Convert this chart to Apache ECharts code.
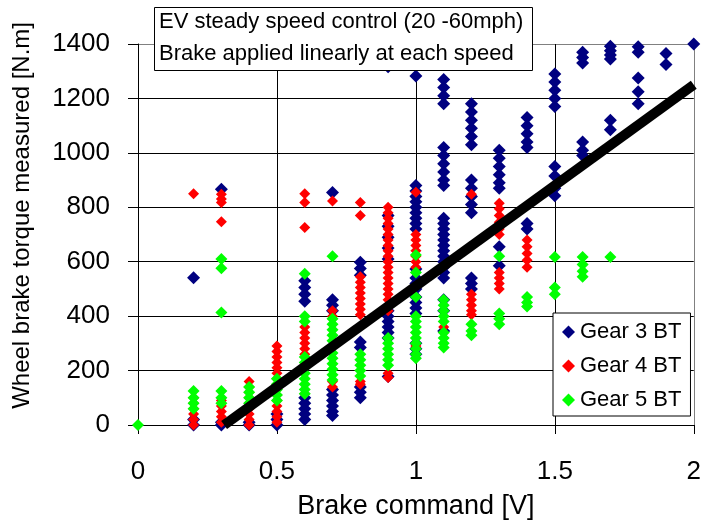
<!DOCTYPE html>
<html>
<head>
<meta charset="utf-8">
<script src="https://cdn.jsdelivr.net/npm/echarts@6/dist/echarts.min.js"></script>
<style>
  html, body { margin: 0; padding: 0; background: #fff; }
  #chart { width: 704px; height: 525px; }
</style>
</head>
<body>
<div id="chart"></div>
<script>
// Axis ticks
const xTicks = [0, 0.5, 1, 1.5, 2];
const yTicks = [0, 200, 400, 600, 800, 1000, 1200, 1400];

// Measured wheel brake torque [N.m] against brake command [V], per gear
const gear3Points = [
  [0.2, 541], [0.2, 20], [0.2, 0],
  [0.3, 866], [0.3, 10], [0.3, 0],
  [0.4, 10], [0.4, 0],
  [0.5, 40], [0.5, 20], [0.5, 0],
  [0.6, 530], [0.6, 505], [0.6, 480], [0.6, 455], [0.6, 100], [0.6, 80], [0.6, 60], [0.6, 40], [0.6, 20],
  [0.7, 854], [0.7, 460], [0.7, 440], [0.7, 420], [0.7, 130], [0.7, 110], [0.7, 90], [0.7, 70], [0.7, 50], [0.7, 35],
  [0.8, 598], [0.8, 575], [0.8, 550], [0.8, 305], [0.8, 285], [0.8, 140], [0.8, 120], [0.8, 100],
  [0.9, 1316], [0.9, 770], [0.9, 730], [0.9, 690], [0.9, 650], [0.9, 610], [0.9, 420], [0.9, 400], [0.9, 380],
  [0.9, 360], [0.9, 340], [0.9, 320], [0.9, 178],
  [1.0, 1282], [1.0, 880], [1.0, 860], [1.0, 840], [1.0, 820], [1.0, 800], [1.0, 780], [1.0, 760], [1.0, 740],
  [1.0, 720], [1.0, 573], [1.0, 540], [1.0, 520], [1.0, 500], [1.0, 470], [1.0, 450], [1.0, 430], [1.0, 410],
  [1.0, 300], [1.0, 280], [1.0, 260],
  [1.1, 1270], [1.1, 1240], [1.1, 1210], [1.1, 1180], [1.1, 1020], [1.1, 990], [1.1, 960], [1.1, 930], [1.1, 900],
  [1.1, 880], [1.1, 760], [1.1, 740], [1.1, 720], [1.1, 700], [1.1, 680], [1.1, 660], [1.1, 640], [1.1, 620],
  [1.1, 600], [1.1, 580], [1.1, 560], [1.1, 540], [1.1, 460], [1.1, 420], [1.1, 345],
  [1.2, 1180], [1.2, 1150], [1.2, 1120], [1.2, 1090], [1.2, 1060], [1.2, 1030], [1.2, 900], [1.2, 870], [1.2, 840],
  [1.2, 810], [1.2, 780], [1.2, 540], [1.2, 520], [1.2, 500],
  [1.3, 1010], [1.3, 980], [1.3, 950], [1.3, 920], [1.3, 890], [1.3, 870], [1.3, 655], [1.3, 585],
  [1.4, 1130], [1.4, 1100], [1.4, 1070], [1.4, 1040], [1.4, 1020], [1.4, 740], [1.4, 720],
  [1.5, 1290], [1.5, 1260], [1.5, 1230], [1.5, 1200], [1.5, 1170], [1.5, 950], [1.5, 915], [1.5, 870], [1.5, 842],
  [1.6, 1370], [1.6, 1350], [1.6, 1330], [1.6, 1040], [1.6, 1010], [1.6, 990],
  [1.7, 1392], [1.7, 1375], [1.7, 1360], [1.7, 1345], [1.7, 1120], [1.7, 1085],
  [1.8, 1390], [1.8, 1370], [1.8, 1275], [1.8, 1225], [1.8, 1180],
  [1.9, 1365], [1.9, 1325],
  [2.0, 1400]
];

const gear4Points = [
  [0.2, 850], [0.2, 100], [0.2, 80], [0.2, 60], [0.2, 40], [0.2, 20], [0.2, 0],
  [0.3, 848], [0.3, 830], [0.3, 818], [0.3, 747], [0.3, 90], [0.3, 70], [0.3, 50], [0.3, 30], [0.3, 10],
  [0.4, 160], [0.4, 140], [0.4, 120], [0.4, 100], [0.4, 80], [0.4, 60], [0.4, 40], [0.4, 20], [0.4, 0],
  [0.5, 290], [0.5, 270], [0.5, 250], [0.5, 230], [0.5, 210], [0.5, 190], [0.5, 170], [0.5, 150], [0.5, 130],
  [0.5, 110], [0.5, 90], [0.5, 70], [0.5, 50], [0.5, 30], [0.5, 10],
  [0.6, 850], [0.6, 818], [0.6, 726], [0.6, 360], [0.6, 340], [0.6, 320], [0.6, 300], [0.6, 280], [0.6, 260], [0.6, 115],
  [0.7, 823], [0.7, 420], [0.7, 400], [0.7, 160], [0.7, 140],
  [0.8, 818], [0.8, 770], [0.8, 545], [0.8, 525], [0.8, 505], [0.8, 485], [0.8, 465], [0.8, 445], [0.8, 425],
  [0.8, 405], [0.8, 160], [0.8, 150],
  [0.9, 800], [0.9, 780], [0.9, 760], [0.9, 740], [0.9, 720], [0.9, 700], [0.9, 680], [0.9, 660], [0.9, 640],
  [0.9, 620], [0.9, 600], [0.9, 580], [0.9, 560], [0.9, 540], [0.9, 520], [0.9, 500], [0.9, 480], [0.9, 460],
  [0.9, 440], [0.9, 420], [0.9, 190], [0.9, 175],
  [1.0, 855], [1.0, 700], [1.0, 680], [1.0, 660], [1.0, 640], [1.0, 620], [1.0, 600], [1.0, 580], [1.0, 290],
  [1.1, 360], [1.1, 340],
  [1.2, 848], [1.2, 480], [1.2, 460], [1.2, 440], [1.2, 420], [1.2, 405],
  [1.3, 815], [1.3, 795], [1.3, 770], [1.3, 745], [1.3, 720], [1.3, 700], [1.3, 560], [1.3, 540], [1.3, 520], [1.3, 500],
  [1.4, 680], [1.4, 655], [1.4, 630], [1.4, 605], [1.4, 580]
];

const gear5Points = [
  [0, 0],
  [0.2, 125], [0.2, 100], [0.2, 80], [0.2, 60],
  [0.3, 610], [0.3, 576], [0.3, 413], [0.3, 125], [0.3, 100], [0.3, 80],
  [0.4, 140], [0.4, 120], [0.4, 100], [0.4, 80],
  [0.5, 170], [0.5, 150], [0.5, 130], [0.5, 110], [0.5, 90],
  [0.6, 556], [0.6, 400], [0.6, 380], [0.6, 250], [0.6, 230], [0.6, 210], [0.6, 190], [0.6, 170], [0.6, 150],
  [0.6, 130], [0.6, 115],
  [0.7, 620], [0.7, 390], [0.7, 370], [0.7, 350], [0.7, 330], [0.7, 310], [0.7, 290], [0.7, 265], [0.7, 245],
  [0.7, 225], [0.7, 205], [0.7, 185], [0.7, 165],
  [0.8, 260], [0.8, 240], [0.8, 220], [0.8, 200], [0.8, 180],
  [0.9, 320], [0.9, 300], [0.9, 280], [0.9, 260], [0.9, 240], [0.9, 220],
  [1.0, 625], [1.0, 560], [1.0, 470], [1.0, 400], [1.0, 380], [1.0, 360], [1.0, 340], [1.0, 320], [1.0, 300],
  [1.0, 280], [1.0, 260], [1.0, 245],
  [1.1, 460], [1.1, 440], [1.1, 420], [1.1, 400], [1.1, 380], [1.1, 340], [1.1, 320], [1.1, 300], [1.1, 285],
  [1.2, 370], [1.2, 345], [1.2, 330],
  [1.3, 620], [1.3, 410], [1.3, 390], [1.3, 370],
  [1.4, 470], [1.4, 450], [1.4, 435],
  [1.5, 617], [1.5, 505], [1.5, 480],
  [1.6, 617], [1.6, 590], [1.6, 565], [1.6, 545],
  [1.7, 617]
];

// Linear trend of torque against command
const trendLine = [[0.31, 0], [2.0, 1250]];

const seriesNames = ['Gear 3 BT', 'Gear 4 BT', 'Gear 5 BT'];
const noteLines = ['EV steady speed control (20 -60mph)', 'Brake applied linearly at each speed'];
const xTitle = 'Brake command [V]';
const yTitle = 'Wheel brake torque measured [N.m]';

const FONT = '"Liberation Sans", Arial, sans-serif';
const chart = echarts.init(document.getElementById('chart'), null, { renderer: 'canvas' });

chart.setOption({
  backgroundColor: '#ffffff',
  animation: false,
  textStyle: { fontFamily: FONT, color: '#000' },
  grid: { left: 138, right: 7, top: 44, bottom: 98 },
  xAxis: {
    type: 'value',
    min: xTicks[0], max: xTicks[xTicks.length - 1], interval: 0.5,
    name: xTitle, nameLocation: 'middle', nameGap: 68,
    nameTextStyle: { fontSize: 27, color: '#000', fontFamily: FONT },
    axisLine: { show: true, onZero: false, lineStyle: { color: '#000', width: 1 } },
    axisTick: { show: true, inside: false, length: 9, lineStyle: { color: '#000' } },
    axisLabel: { fontSize: 26, color: '#000', fontFamily: FONT, margin: 34, formatter: v => String(v) },
    splitLine: { show: true, lineStyle: { color: ['#000', '#000', '#000', '#000', '#808080'], width: 1 } }
  },
  yAxis: {
    type: 'value',
    min: yTicks[0], max: yTicks[yTicks.length - 1], interval: 200,
    axisLine: { show: true, onZero: false, lineStyle: { color: '#000', width: 1 } },
    axisTick: { show: true, inside: false, length: 10, lineStyle: { color: '#000' } },
    axisLabel: { fontSize: 26, color: '#000', fontFamily: FONT, margin: 28, formatter: v => String(v) },
    splitLine: { show: true, lineStyle: { color: ['#000', '#000', '#000', '#000', '#000', '#000', '#000', '#808080'], width: 1 } }
  },
  legend: {
    orient: 'vertical',
    left: 553, top: 313,
    padding: [8, 9, 5, 9],
    itemGap: 12,
    itemWidth: 13, itemHeight: 13,
    backgroundColor: '#fff',
    borderColor: '#000', borderWidth: 1, borderRadius: 0,
    textStyle: { fontSize: 22, color: '#000', fontFamily: FONT, lineHeight: 22 },
    data: seriesNames.map(n => ({ name: n, icon: 'diamond' }))
  },
  series: [
    {
      name: seriesNames[0], type: 'scatter', symbol: 'diamond', symbolSize: 13,
      itemStyle: { color: '#000080', opacity: 1 }, data: gear3Points, z: 2, clip: false
    },
    {
      name: seriesNames[1], type: 'scatter', symbol: 'diamond', symbolSize: 11,
      itemStyle: { color: '#ff0000', opacity: 1 }, data: gear4Points, z: 3, clip: false
    },
    {
      name: seriesNames[2], type: 'scatter', symbol: 'diamond', symbolSize: 12,
      itemStyle: { color: '#00ff00', opacity: 1 }, data: gear5Points, z: 4, clip: false
    },
    {
      name: 'trend', type: 'line', data: trendLine, symbol: 'none', z: 5,
      lineStyle: { color: '#000', width: 10, cap: 'butt' }, silent: true
    }
  ],
  graphic: [
    {
      type: 'rect', left: 154, top: 7, z: 100, zlevel: 0,
      shape: { x: 0, y: 0, width: 378, height: 63 },
      style: { fill: '#fff', stroke: '#000', lineWidth: 1 }
    },
    {
      type: 'text', left: 159, top: 11, z: 101,
      style: { text: noteLines[0], font: '22px ' + FONT, fill: '#000' }
    },
    {
      type: 'text', left: 159, top: 43, z: 101,
      style: { text: noteLines[1], font: '22px ' + FONT, fill: '#000' }
    },
    {
      type: 'text', left: 10, top: 22, z: 100,
      rotation: Math.PI / 2,
      style: { text: yTitle, font: '24px ' + FONT, fill: '#000' }
    }
  ]
});
</script>
</body>
</html>
